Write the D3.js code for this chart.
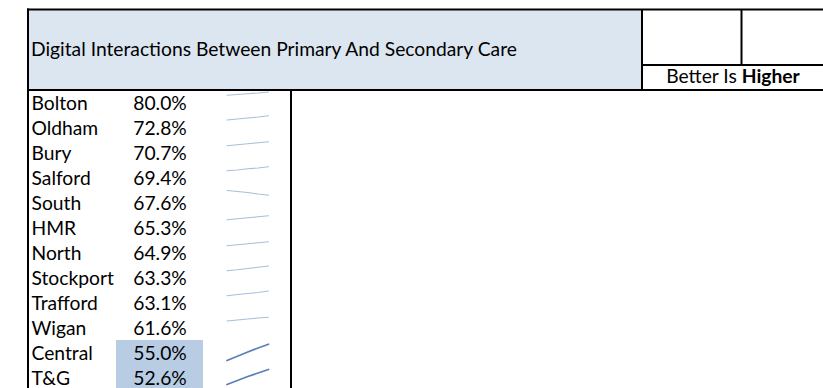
<!DOCTYPE html>
<html>
<head>
<meta charset="utf-8">
<script src="https://cdn.jsdelivr.net/npm/d3@7"></script>
<style>
  html, body { margin: 0; padding: 0; background: #ffffff; }
  svg { display: block; }
  text { font-family: Lato, "Open Sans", sans-serif; fill: #000; }
</style>
</head>
<body>
<svg id="chart" width="823" height="388"></svg>
<script>
// ---- data ----
const title = "Digital Interactions Between Primary And Secondary Care";
const noteLead = "Better Is ";
const noteBold = "Higher";
const areas = ["Bolton", "Oldham", "Bury", "Salford", "South", "HMR", "North",
               "Stockport", "Trafford", "Wigan", "Central", "T&G"];
const values = [80.0, 72.8, 70.7, 69.4, 67.6, 65.3, 64.9, 63.3, 63.1, 61.6, 55.0, 52.6];
const highlighted = ["Central", "T&G"];
// sparkline trend points (index 0-100 within each cell)
const sparkBolton    = [79, 82, 85, 88, 92];
const sparkOldham    = [80, 84, 88, 92, 97];
const sparkBury      = [77, 81, 85, 89, 93];
const sparkSalford   = [77, 80, 85, 88, 93];
const sparkSouth     = [98, 94, 90, 84, 79];
const sparkHMR       = [81, 85, 89, 93, 97];
const sparkNorth     = [77, 81, 85, 89, 93];
const sparkStockport = [77, 81, 86, 91, 96];
const sparkTrafford  = [77, 82, 86, 90, 96];
const sparkWigan     = [76, 80, 84, 88, 91];
const sparkCentral   = [18, 35, 52, 68, 83];
const sparkTG        = [22, 38, 54, 68, 82];
const sparks = [sparkBolton, sparkOldham, sparkBury, sparkSalford, sparkSouth, sparkHMR,
                sparkNorth, sparkStockport, sparkTrafford, sparkWigan, sparkCentral, sparkTG];

// ---- drawing ----
const svg = d3.select("#chart");
const W = 823;

// fit font so the title width matches the reference
const probe = svg.append("text").attr("font-size", 18).text(title);
const probeLen = probe.node().getComputedTextLength();
probe.remove();
const fs = 18 * 486 / probeLen;

const fmt = d3.format(".1f");

// header
const hTop = 9.5, hBot = 90;
svg.append("rect").attr("x", 28).attr("y", hTop).attr("width", 641.5 - 28).attr("height", hBot - hTop)
  .attr("fill", "#dce6f1");
const frame = svg.append("g").attr("stroke", "#000").attr("stroke-width", 2).attr("fill", "none");
frame.append("line").attr("x1", 27).attr("x2", W + 2).attr("y1", hTop).attr("y2", hTop);
frame.append("line").attr("x1", 27).attr("x2", W + 2).attr("y1", hBot).attr("y2", hBot);
frame.append("line").attr("x1", 642).attr("x2", W + 2).attr("y1", 65).attr("y2", 65);
frame.append("line").attr("x1", 642).attr("x2", 642).attr("y1", hTop).attr("y2", hBot);
frame.append("line").attr("x1", 741.5).attr("x2", 741.5).attr("y1", hTop).attr("y2", 65);

svg.append("text").attr("x", 31).attr("y", 56).attr("font-size", fs).text(title);
const note = svg.append("text").attr("x", 733).attr("y", 83).attr("font-size", fs)
  .attr("text-anchor", "middle");
note.append("tspan").text(noteLead);
note.append("tspan").attr("font-weight", "bold").text(noteBold);

// table
const y = d3.scaleBand().domain(areas).range([hBot, hBot + 25 * areas.length]).padding(0);
const sx = d3.scaleLinear().domain([0, 4]).range([227, 268.5]);
const sy = d3.scaleLinear().domain([0, 100]).range([y.bandwidth(), 0]);

const rows = svg.append("g").selectAll("g").data(areas).join("g")
  .attr("transform", d => `translate(0,${y(d)})`);

rows.filter(d => highlighted.includes(d)).append("rect")
  .attr("x", 116).attr("y", 0).attr("width", 87).attr("height", y.bandwidth())
  .attr("fill", "#b8cce4");

rows.append("text").attr("x", 31.5).attr("y", 19.5).attr("font-size", fs).text(d => d);
rows.append("text").attr("x", 160).attr("y", 19.5).attr("font-size", fs)
  .attr("text-anchor", "middle").text((d, i) => fmt(values[i]) + "%");

const line = d3.line().x((d, i) => sx(i)).y(d => sy(d));
rows.append("path")
  .attr("d", (d, i) => line(sparks[i]))
  .attr("fill", "none")
  .attr("stroke", d => highlighted.includes(d) ? "#5b80b8" : "#a9bedb")
  .attr("stroke-width", d => highlighted.includes(d) ? 1.8 : 1.1)
  .attr("stroke-linecap", "round");

const tb = svg.append("g").attr("stroke", "#000").attr("stroke-width", 2);
tb.append("line").attr("x1", 28).attr("x2", 28).attr("y1", hTop - 1).attr("y2", 400);
tb.append("line").attr("x1", 291).attr("x2", 291).attr("y1", hBot).attr("y2", 400);
</script>
</body>
</html>
